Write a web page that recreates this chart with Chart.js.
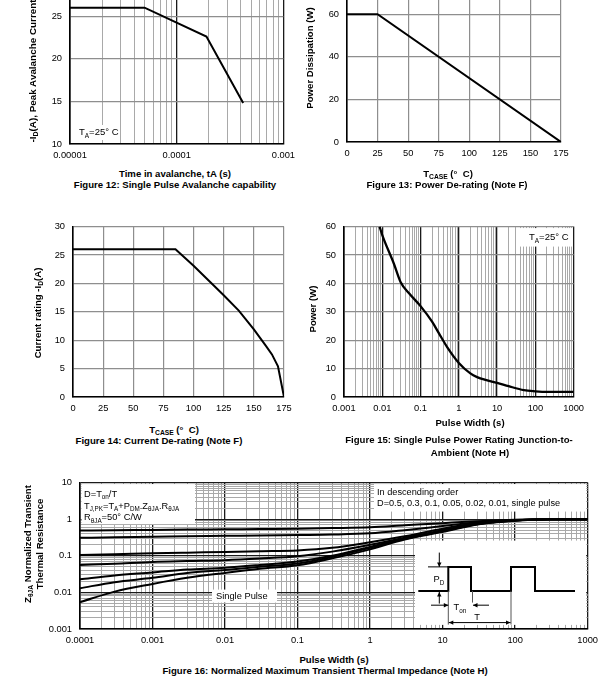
<!DOCTYPE html>
<html>
<head>
<meta charset="utf-8">
<script src="https://cdn.jsdelivr.net/npm/chart.js@4.4.1/dist/chart.umd.min.js"></script>
<style>
  html, body { margin: 0; padding: 0; background: #fff; }
  body { position: relative; width: 604px; height: 682px; overflow: hidden; font-family: "Liberation Sans", Arial, sans-serif; }
  canvas { position: absolute; }
  .t { position: absolute; white-space: nowrap; line-height: 1; transform: translate(-50%, -50%); font-weight: bold; font-size: 9.6px; color: #000; }
  .r { transform: translate(-50%, -50%) rotate(-90deg); }
  .s { font-size: 70%; position: relative; top: 0.3em; }
</style>
</head>
<body>
<canvas id="c12"></canvas>
<canvas id="c13"></canvas>
<canvas id="c14"></canvas>
<canvas id="c15"></canvas>
<canvas id="c16"></canvas>

<div class="t r" style="left:33px;top:71px;font-size:9.9px">-I<span class="s">D</span>(A), Peak Avalanche Current</div>
<div class="t" style="left:175px;top:174px">Time in avalanche, tA (s)</div>
<div class="t" style="left:175px;top:185px">Figure 12: Single Pulse Avalanche capability</div>

<div class="t r" style="left:310px;top:58px">Power Dissipation (W)</div>
<div class="t" style="left:448px;top:174px">T<span class="s">CASE</span> (°&nbsp; C)</div>
<div class="t" style="left:447px;top:184.5px">Figure 13: Power De-rating (Note F)</div>

<div class="t r" style="left:38px;top:313px">Current rating -I<span class="s">D</span>(A)</div>
<div class="t" style="left:174px;top:430px">T<span class="s">CASE</span> (°&nbsp; C)</div>
<div class="t" style="left:159px;top:440.5px">Figure 14: Current De-rating (Note F)</div>

<div class="t r" style="left:313px;top:309px">Power (W)</div>
<div class="t" style="left:470px;top:423px">Pulse Width (s)</div>
<div class="t" style="left:459px;top:440px">Figure 15: Single Pulse Power Rating Junction-to-</div>
<div class="t" style="left:470px;top:452.5px">Ambient (Note H)</div>

<div class="t r" style="left:28px;top:544px">Z<span class="s">θJA</span> Normalized Transient</div>
<div class="t r" style="left:39.5px;top:544px">Thermal Resistance</div>
<div class="t" style="left:334px;top:660px">Pulse Width (s)</div>
<div class="t" style="left:325px;top:670.5px">Figure 16: Normalized Maximum Transient Thermal Impedance (Note H)</div>

<script>
// Figure 12 - avalanche current vs time
const avalTime = [0.00001, 0.00005, 0.00019, 0.00042];
const avalCurrent = [26, 26, 22.6, 14.8];
const avalDecades = [0.00001, 0.0001, 0.001];
const avalDecadeLabels = ["0.00001", "0.0001", "0.001"];

// Figure 13 - power derating
const pdTemp = [0, 25, 175];
const pdPower = [60, 60, 0];

// Figure 14 - current derating
const idTemp = [0, 85, 100, 112.5, 125, 137.5, 150, 160, 165, 170, 175];
const idCurrent = [26, 26, 23.1, 20.5, 17.9, 15.2, 11.9, 9, 7.5, 5.4, 0];

// Figure 15 - single pulse power
const pulseWidth = [0.0085, 0.01, 0.02, 0.03, 0.05, 0.1, 0.2, 0.3, 0.5, 1, 2, 3, 5, 10, 20, 50, 100, 200, 1000];
const pulsePower = [60, 57, 47, 40.5, 36.5, 32, 26.5, 22.5, 17.5, 12, 8.3, 7, 6, 5, 3.8, 2.4, 2, 1.8, 1.8];
const pulseDecades = [0.001, 0.01, 0.1, 1, 10, 100, 1000];
const pulseDecadeLabels = ["0.001", "0.01", "0.1", "1", "10", "100", "1000"];

// Figure 16 - normalized transient thermal impedance
const zthTime = [0.0001, 0.0003, 0.001, 0.003, 0.01, 0.03, 0.1, 0.3, 1, 3, 10, 30, 100, 300, 1000];
const zthD05 = [0.49, 0.5, 0.51, 0.52, 0.53, 0.54, 0.55, 0.57, 0.6, 0.68, 0.78, 0.88, 0.97, 1, 1];
const zthD03 = [0.31, 0.32, 0.33, 0.34, 0.35, 0.36, 0.37, 0.38, 0.41, 0.5, 0.65, 0.82, 0.95, 1, 1];
const zthD01 = [0.105, 0.11, 0.117, 0.122, 0.127, 0.133, 0.14, 0.165, 0.235, 0.34, 0.55, 0.77, 0.93, 0.99, 1];
const zthD005 = [0.056, 0.061, 0.068, 0.072, 0.076, 0.084, 0.097, 0.13, 0.2, 0.31, 0.5, 0.75, 0.93, 0.99, 1];
const zthD002 = [0.023, 0.029, 0.035, 0.042, 0.047, 0.056, 0.07, 0.1, 0.175, 0.3, 0.48, 0.74, 0.92, 0.99, 1];
const zthD001 = [0.013, 0.019, 0.025, 0.034, 0.041, 0.05, 0.062, 0.093, 0.165, 0.29, 0.47, 0.73, 0.92, 0.99, 1];
const zthSingle = [0.0054, 0.0105, 0.017, 0.025, 0.034, 0.044, 0.055, 0.085, 0.15, 0.28, 0.45, 0.72, 0.91, 0.99, 1];
const zthSeries = [zthD05, zthD03, zthD01, zthD005, zthD002, zthD001, zthSingle];
const zthXDecades = [0.0001, 0.001, 0.01, 0.1, 1, 10, 100, 1000];
const zthXLabels = ["0.0001", "0.001", "0.01", "0.1", "1", "10", "100", "1000"];
const zthYDecades = [0.001, 0.01, 0.1, 1, 10];
const zthYLabels = ["0.001", "0.01", "0.1", "1", "10"];

const FONT = '"Liberation Sans", Arial, sans-serif';
Chart.defaults.font.family = FONT;
Chart.defaults.font.size = 9.3;
Chart.defaults.color = "#000";

const PAD_L = 60, PAD_T = 12, PAD_R = 16, AX_H = 24;

function setupCanvas(id, plot) {
  const c = document.getElementById(id);
  const w = plot.r - plot.l + PAD_L + PAD_R;
  const h = plot.b - plot.t + PAD_T + AX_H;
  c.width = w;
  c.height = h;
  c.style.width = w + "px";
  c.style.height = h + "px";
  c.style.left = (plot.l - PAD_L) + "px";
  c.style.top = (plot.t - PAD_T) + "px";
  return c;
}

function pts(xs, ys) {
  return xs.map((x, i) => ({ x: x, y: ys[i] }));
}

function sameVal(a, b) {
  return Math.abs(a - b) < Math.abs(b) * 1e-6;
}

function logAxis(decades, labels) {
  const grid = [];
  for (let i = 0; i < decades.length - 1; i++) {
    for (let m = 1; m <= 9; m++) grid.push(+(m * decades[i]).toPrecision(6));
  }
  grid.push(decades[decades.length - 1]);
  const isDec = (v) => decades.some((d) => sameVal(v, d));
  return {
    type: "logarithmic",
    min: decades[0],
    max: decades[decades.length - 1],
    afterBuildTicks: (s) => { s.ticks = grid.map((v) => ({ value: v })); },
    ticks: {
      autoSkip: false,
      maxRotation: 0,
      callback: (v) => {
        const k = decades.findIndex((d) => sameVal(v, d));
        return k < 0 ? "" : labels[k];
      },
    },
    grid: {
      drawTicks: false,
      color: (c) => (c.tick && isDec(c.tick.value) ? "#1a1a1a" : "#a9a9a9"),
      lineWidth: (c) => (c.tick && isDec(c.tick.value) ? 1.3 : 1),
    },
    border: { color: "#000", width: 1.6 },
  };
}

function linAxis(min, max, step) {
  return {
    type: "linear",
    min: min,
    max: max,
    ticks: { stepSize: step, autoSkip: false, maxRotation: 0 },
    grid: { drawTicks: false, color: "#8e8e8e", lineWidth: 1.2 },
    border: { color: "#000", width: 1.6 },
  };
}

function makeChart(id, plot, datasets, xScale, yScale, extraPlugins) {
  const canvas = setupCanvas(id, plot);
  xScale.afterFit = (s) => { s.height = AX_H; };
  xScale.ticks.padding = 6;
  yScale.afterFit = (s) => { s.width = PAD_L; };
  yScale.ticks.padding = 8;
  return new Chart(canvas, {
    type: "line",
    data: { datasets: datasets },
    options: {
      responsive: false,
      animation: false,
      events: [],
      layout: { padding: { left: 0, top: PAD_T, right: PAD_R, bottom: 0 } },
      plugins: { legend: { display: false }, tooltip: { enabled: false } },
      elements: { point: { radius: 0 }, line: { borderColor: "#000", borderWidth: 2, fill: false } },
      scales: { x: xScale, y: yScale },
    },
    plugins: extraPlugins || [],
  });
}

// text with subscripts: parts = [[text, isSub], ...], y is baseline
function rich(ctx, x, y, parts, size, align) {
  const f = (p) => (p[1] ? size * 0.68 : size) + "px " + FONT;
  let w = 0;
  parts.forEach((p) => { ctx.font = f(p); w += ctx.measureText(p[0]).width; });
  let cx = align === "center" ? x - w / 2 : x;
  ctx.textAlign = "left";
  ctx.textBaseline = "alphabetic";
  ctx.fillStyle = "#000";
  parts.forEach((p) => {
    ctx.font = f(p);
    ctx.fillText(p[0], cx, y + (p[1] ? size * 0.28 : 0));
    cx += ctx.measureText(p[0]).width;
  });
}

function whiteBox(ctx, x0, y0, x1, y1) {
  ctx.fillStyle = "#fff";
  ctx.fillRect(x0, y0, x1 - x0, y1 - y0);
}

function seg(ctx, x0, y0, x1, y1, w) {
  ctx.lineWidth = w;
  ctx.beginPath();
  ctx.moveTo(x0, y0);
  ctx.lineTo(x1, y1);
  ctx.stroke();
}

function arrow(ctx, x0, y0, x1, y1) {
  seg(ctx, x0, y0, x1, y1, 1);
  const a = Math.atan2(y1 - y0, x1 - x0), L = 4.5, W = 2.2;
  ctx.beginPath();
  ctx.moveTo(x1, y1);
  ctx.lineTo(x1 - L * Math.cos(a) + W * Math.sin(a), y1 - L * Math.sin(a) - W * Math.cos(a));
  ctx.lineTo(x1 - L * Math.cos(a) - W * Math.sin(a), y1 - L * Math.sin(a) + W * Math.cos(a));
  ctx.closePath();
  ctx.fill();
}

// ---------- Figure 12 ----------
makeChart("c12", { l: 70, r: 285, t: -28, b: 144 },
  [{ data: pts(avalTime, avalCurrent) }],
  logAxis(avalDecades, avalDecadeLabels),
  linAxis(10, 30, 5),
  [{
    id: "ta12",
    afterDatasetsDraw(chart) {
      const { ctx, chartArea: a } = chart;
      whiteBox(ctx, a.left + 3, a.bottom - 19, a.left + 50, a.bottom - 4);
      rich(ctx, a.left + 9, a.bottom - 9, [["T"], ["A", 1], ["=25° C"]], 9.5);
    },
  }]);

// ---------- Figure 13 ----------
makeChart("c13", { l: 347, r: 561, t: -30, b: 142 },
  [{ data: pts(pdTemp, pdPower) }],
  linAxis(0, 175, 25),
  linAxis(0, 80, 20));

// ---------- Figure 14 ----------
makeChart("c14", { l: 73, r: 284, t: 225, b: 397 },
  [{ data: pts(idTemp, idCurrent) }],
  linAxis(0, 175, 25),
  linAxis(0, 30, 5));

// ---------- Figure 15 ----------
makeChart("c15", { l: 344, r: 574, t: 225, b: 397 },
  [{ data: pts(pulseWidth, pulsePower), cubicInterpolationMode: "monotone", borderWidth: 2.3 }],
  logAxis(pulseDecades, pulseDecadeLabels),
  linAxis(0, 60, 10),
  [{
    id: "ta15",
    afterDatasetsDraw(chart) {
      const { ctx, chartArea: a } = chart;
      whiteBox(ctx, a.left + 174, a.top + 1.5, a.right - 1.5, a.top + 20);
      rich(ctx, a.left + 185, a.top + 13.3, [["T"], ["A", 1], ["=25° C"]], 9.5);
    },
  }]);

// ---------- Figure 16 ----------
makeChart("c16", { l: 80, r: 588, t: 481, b: 629 },
  zthSeries.map((s) => ({ data: pts(zthTime, s), cubicInterpolationMode: "monotone", borderWidth: 2 })),
  logAxis(zthXDecades, zthXLabels),
  logAxis(zthYDecades, zthYLabels),
  [{
    id: "notes16",
    afterDatasetsDraw(chart) {
      const { ctx, chartArea: a } = chart;
      const L = a.left, T = a.top;
      ctx.save();
      // note boxes
      whiteBox(ctx, L + 1.5, T + 1.5, L + 115, T + 41.5);
      whiteBox(ctx, L + 294, T + 1.5, a.right - 1.5, T + 29);
      whiteBox(ctx, L + 335, T + 58, a.right - 1.5, T + 142.3);
      whiteBox(ctx, L + 132, T + 107, L + 197, T + 120);

      rich(ctx, L + 4, T + 14, [["D=T"], ["on", 1], ["/T"]], 9.3);
      rich(ctx, L + 4, T + 26, [["T"], ["J,PK", 1], ["=T"], ["A", 1], ["+P"], ["DM", 1], [".Z"], ["θJA", 1], [".R"], ["θJA", 1]], 9.3);
      rich(ctx, L + 4, T + 37.5, [["R"], ["θJA", 1], ["=50° C/W"]], 9.3);
      rich(ctx, L + 297, T + 12.6, [["In descending order"]], 9.2);
      rich(ctx, L + 297, T + 23.8, [["D=0.5, 0.3, 0.1, 0.05, 0.02, 0.01, single pulse"]], 9.2);
      rich(ctx, L + 136, T + 116.6, [["Single Pulse"]], 9.3);

      // pulse train inset
      ctx.strokeStyle = "#000";
      ctx.fillStyle = "#000";
      const lo = T + 108.3, hi = T + 84.3;
      const xs = [L + 338.3, L + 368.3, L + 391, L + 431, L + 455, L + 495];
      ctx.lineWidth = 2;
      ctx.beginPath();
      ctx.moveTo(xs[0], lo);
      ctx.lineTo(xs[1], lo); ctx.lineTo(xs[1], hi); ctx.lineTo(xs[2], hi); ctx.lineTo(xs[2], lo);
      ctx.lineTo(xs[3], lo); ctx.lineTo(xs[3], hi); ctx.lineTo(xs[4], hi); ctx.lineTo(xs[4], lo);
      ctx.lineTo(xs[5], lo);
      ctx.stroke();
      // P_D markers
      seg(ctx, L + 348, hi, xs[1], hi, 1);
      arrow(ctx, L + 359.3, T + 70, L + 359.3, hi);
      arrow(ctx, L + 359.3, T + 121, L + 359.3, lo + 1);
      rich(ctx, L + 359, T + 99.6, [["P"], ["D", 1]], 9.3, "center");
      // T_on markers
      ctx.strokeStyle = "#555";
      seg(ctx, xs[1], lo, xs[1], T + 142, 1);
      seg(ctx, xs[2] + 1.5, lo, xs[2] + 1.5, T + 120, 1);
      seg(ctx, xs[3], lo, xs[3], T + 142, 1);
      ctx.strokeStyle = "#000";
      arrow(ctx, L + 351, T + 122.6, xs[1], T + 122.6);
      arrow(ctx, L + 409, T + 122.6, xs[2] + 2, T + 122.6);
      rich(ctx, L + 373.5, T + 127.6, [["T"], ["on", 1]], 9.3);
      // T period
      arrow(ctx, L + 400, T + 140, xs[1] + 0.5, T + 140);
      arrow(ctx, L + 400, T + 140, xs[3] - 0.5, T + 140);
      rich(ctx, L + 397, T + 137.3, [["T"]], 9.3, "center");
      ctx.restore();
    },
  }]);
</script>
</body>
</html>
